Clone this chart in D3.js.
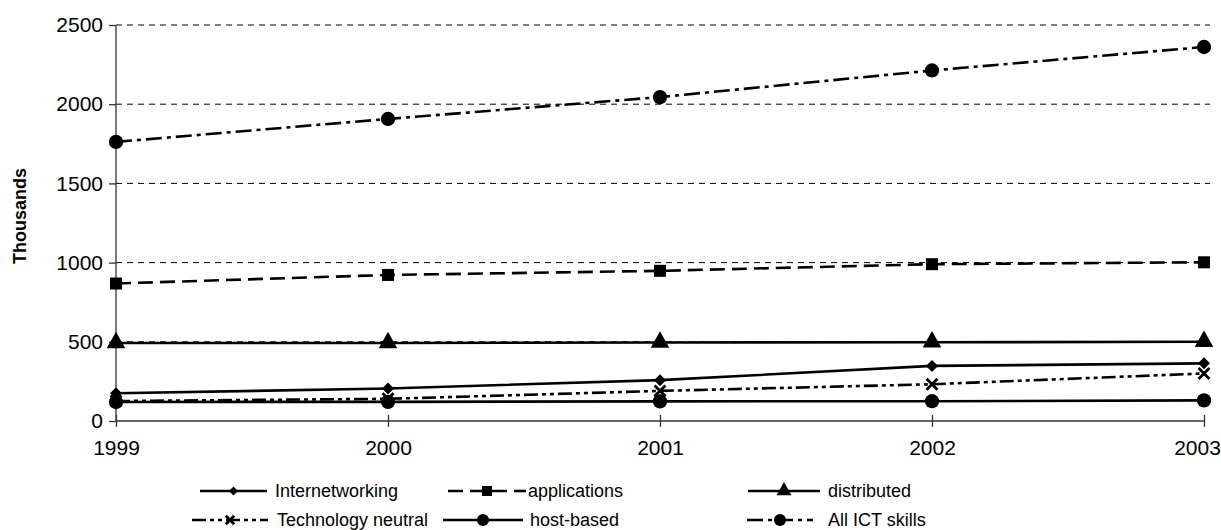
<!DOCTYPE html>
<html>
<head>
<meta charset="utf-8">
<script src="https://cdn.jsdelivr.net/npm/d3@7"></script>
<style>
  body { margin: 0; background: #fff; }
  text { font-family: "Liberation Sans", Arial, sans-serif; fill: #000; }
</style>
</head>
<body>
<div id="chart"></div>
<script>
// chart values (thousands)
const years = ["1999", "2000", "2001", "2002", "2003"];
const internetworking = [175, 205, 258, 348, 364];
const applications = [868, 922, 948, 990, 1002];
const distributed = [492, 492, 496, 497, 500];
const techNeutral = [126, 140, 190, 232, 300];
const hostBased = [120, 121, 124, 125, 130];
const allICT = [1762, 1907, 2045, 2213, 2361];
const yTicks = [0, 500, 1000, 1500, 2000, 2500];

const series = [
  {name: "Internetworking", values: internetworking, dash: null, marker: "diamond"},
  {name: "applications", values: applications, dash: "15,7", marker: "square"},
  {name: "distributed", values: distributed, dash: null, marker: "triangle"},
  {name: "Technology neutral", values: techNeutral, dash: "14,4,4,4,4,4", marker: "cross"},
  {name: "host-based", values: hostBased, dash: null, marker: "circle"},
  {name: "All ICT skills", values: allICT, dash: "16,5,4,5", marker: "circle"}
];

const w = 1221, h = 530;
const svg = d3.select("#chart").append("svg").attr("width", w).attr("height", h);

const x = d3.scalePoint().domain(years).range([116, 1204]);
const y = d3.scaleLinear().domain([0, 2500]).range([421, 25]);

// dashed gridlines
svg.append("g").selectAll("line")
  .data(yTicks.filter(d => d > 0))
  .enter().append("line")
  .attr("x1", 116).attr("x2", 1210)
  .attr("y1", d => y(d)).attr("y2", d => y(d))
  .attr("stroke", "#000").attr("stroke-width", 1)
  .attr("stroke-dasharray", "6,5");

// axes
const yAxis = svg.append("g").attr("transform", "translate(116,0)")
  .call(d3.axisLeft(y).tickValues(yTicks).tickFormat(d3.format("d")).tickSize(7).tickPadding(6));
const xAxis = svg.append("g").attr("transform", "translate(0,421)")
  .call(d3.axisBottom(x).tickSize(6).tickPadding(13));
[yAxis, xAxis].forEach(a => {
  a.select(".domain").attr("stroke", "#333").attr("stroke-width", 1.3);
  a.selectAll(".tick line").attr("stroke", "#333").attr("stroke-width", 1.3);
  a.selectAll("text").style("font-size", "21px").attr("fill", "#000");
});
yAxis.select(".domain").attr("d", "M0,421V25");
xAxis.select(".domain").attr("d", "M116,0H1204");
xAxis.selectAll(".tick line").attr("y1", -6);
xAxis.selectAll(".tick text").filter(d => d === "2003").attr("x", -7);

svg.append("text")
  .attr("transform", "translate(26,216) rotate(-90)")
  .attr("text-anchor", "middle")
  .style("font-size", "18px").style("font-weight", "bold")
  .text("Thousands");

// marker drawing
function drawMarker(g, type, cx, cy, s) {
  if (type === "circle") {
    g.append("circle").attr("cx", cx).attr("cy", cy).attr("r", s * 0.55).attr("fill", "#000");
  } else if (type === "square") {
    g.append("rect").attr("x", cx - s / 2).attr("y", cy - s / 2).attr("width", s).attr("height", s).attr("fill", "#000");
  } else if (type === "triangle") {
    g.append("path").attr("d", `M${cx},${cy - s * 0.75}L${cx + s * 0.62},${cy + s * 0.35}L${cx - s * 0.62},${cy + s * 0.35}Z`).attr("fill", "#000");
  } else if (type === "diamond") {
    const r = s * 0.5;
    g.append("path").attr("d", `M${cx},${cy - r}L${cx + r},${cy}L${cx},${cy + r}L${cx - r},${cy}Z`).attr("fill", "#000");
  } else if (type === "cross") {
    const r = s * 0.42;
    g.append("path").attr("d", `M${cx - r},${cy - r}L${cx + r},${cy + r}M${cx + r},${cy - r}L${cx - r},${cy + r}`)
      .attr("stroke", "#000").attr("stroke-width", 2.8).attr("fill", "none");
  }
}

const line = d3.line().x((d, i) => x(years[i])).y(d => y(d));
const markerSize = {circle: 13, square: 12, triangle: 15, diamond: 12, cross: 13};

series.forEach(s => {
  const g = svg.append("g");
  g.append("path").datum(s.values)
    .attr("d", line)
    .attr("fill", "none").attr("stroke", "#000").attr("stroke-width", 2.6)
    .attr("stroke-dasharray", s.dash);
  s.values.forEach((v, i) => drawMarker(g, s.marker, x(years[i]), y(v), markerSize[s.marker]));
});

// legend
const legendPos = [
  {x: 200, y: 491}, {x: 448, y: 491}, {x: 748, y: 491},
  {x: 192, y: 520}, {x: 443, y: 520}, {x: 747, y: 520}
];
const legendLen = [67, 78, 72, 76, 80, 66];
const legendText = [275, 528, 828, 277, 530, 828];
const legendMarker = {circle: 11, square: 10, triangle: 12, diamond: 9, cross: 10};
const legend = svg.append("g").attr("id", "legend");
series.forEach((s, i) => {
  const p = legendPos[i];
  legend.append("line")
    .attr("x1", p.x).attr("x2", p.x + legendLen[i])
    .attr("y1", p.y).attr("y2", p.y)
    .attr("stroke", "#000").attr("stroke-width", 2.4)
    .attr("stroke-dasharray", s.dash);
  drawMarker(legend, s.marker, p.x + legendLen[i] / 2, p.y, legendMarker[s.marker]);
  legend.append("text")
    .attr("x", legendText[i]).attr("y", p.y + 6)
    .style("font-size", "18px")
    .text(s.name);
});
</script>
</body>
</html>
